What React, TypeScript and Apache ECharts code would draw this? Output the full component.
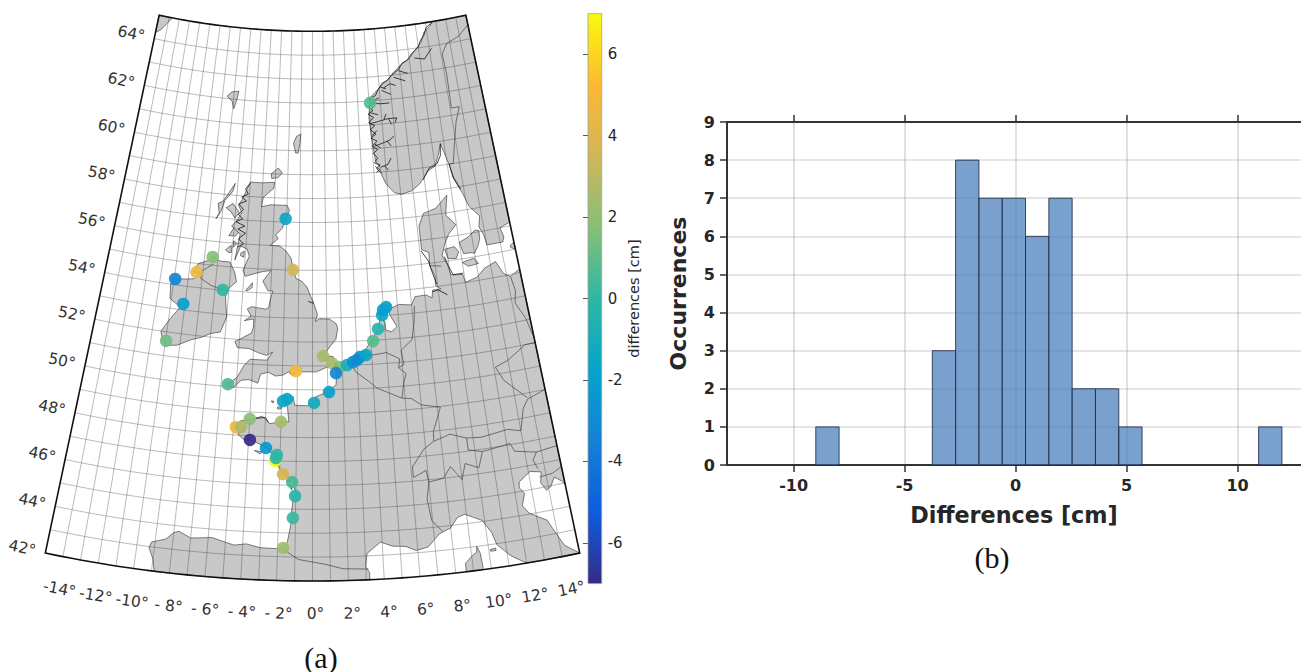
import React, { useEffect, useLayoutEffect, useRef } from "react";
import * as echarts from "echarts";

// ---------- data ----------
const stationLon = [5.09,-2.08,-1.44,-7.40,-8.46,-9.93,-9.12,-6.44,-9.96,-5.56,-1.10,0.71,1.31,1.83,2.31,2.72,2.99,3.20,3.61,4.15,4.53,4.88,4.97,5.20,1.56,1.08,0.10,-1.65,-1.91,-2.00,-3.99,-4.84,-4.52,-3.91,-2.89,-2.30,-2.25,-2.20,-1.79,-1.23,-1.04,-1.15,-1.68];
const stationLat = [61.92,57.14,55.01,55.34,54.64,54.24,53.25,54.01,51.62,50.10,50.78,51.41,51.11,50.94,51.01,51.13,51.21,51.33,51.40,51.97,52.46,53.03,53.24,53.35,50.69,49.90,49.45,49.60,49.51,48.64,48.71,48.33,48.35,47.83,47.53,47.00,47.12,47.25,46.46,46.13,45.55,44.63,43.37];
const stationDiff = [0.8,-1.5,3.5,1.7,4.6,-3.3,-2,0,1.3,0.7,4.8,2.5,2.6,1.5,-1,-2.8,-3,-3,-1.6,0.8,-0.3,-1.5,-2,-2,-3.2,-2,-1.2,-1.6,-1.6,2.4,1.9,4.7,2.6,-7,-2.4,7,0,0,3.7,0.5,-0.2,0.2,2.3];

const binStart = [-9,-7.95,-6.9,-5.85,-4.8,-3.75,-2.7,-1.65,-0.6,0.45,1.5,2.55,3.6,4.65,5.7,6.75,7.8,8.85,9.9,10.95];
const occurrences = [1,0,0,0,0,3,8,7,7,6,7,2,2,1,0,0,0,0,0,1];
const BIN_WIDTH = 1.05;

const lonTickLabels = [[-14,"-14°"],[-12,"-12°"],[-10,"-10°"],[-8,"- 8°"],[-6,"- 6°"],[-4,"- 4°"],[-2,"- 2°"],[0,"0°"],[2,"2°"],[4,"4°"],[6,"6°"],[8,"8°"],[10,"10°"],[12,"12°"],[14,"14°"]] as [number,string][];
const latTicks = [42,44,46,48,50,52,54,56,58,60,62,64];
const colorbarTicks = [-6,-4,-2,0,2,4,6];
const histXTicks = [-10,-5,0,5,10];
const parula = ["#352a87","#0f5cdd","#1481d6","#06a4ca","#2eb7a4","#87bf77","#d1b659","#fdb932","#f9fb0e"];

// coastlines, lon/lat
const scandinavia = [[11.7,65],[11.3,64.8],[10.7,64.6],[10.3,64.2],[9.6,63.9],[9.0,63.6],[8.2,63.4],[7.4,63.1],[6.9,62.85],[6.2,62.6],[5.5,62.3],[5.05,62.1],[5.0,61.7],[4.9,61.3],[4.95,60.9],[5.0,60.5],[5.1,60.0],[5.2,59.5],[5.5,59.2],[5.6,58.9],[5.9,58.5],[6.5,58.1],[7.05,58.0],[7.9,58.1],[8.6,58.35],[9.4,58.85],[10.0,59.0],[10.4,59.45],[10.7,59.9],[10.9,59.5],[11.15,59.0],[11.3,58.4],[11.85,57.7],[12.2,57.1],[12.85,56.65],[12.65,56.2],[12.9,55.85],[13.0,55.4],[14.2,55.4],[14.35,55.6],[14.2,56.0],[14.7,56.1],[15,56.15],[15,65]];
const continent = [[-8.85,42],[-9.0,42.5],[-9.3,42.95],[-9.2,43.2],[-8.4,43.4],[-8.0,43.7],[-7.7,43.78],[-7.0,43.55],[-5.8,43.65],[-4.5,43.4],[-3.8,43.48],[-3.0,43.35],[-2.0,43.33],[-1.7,43.38],[-1.45,43.6],[-1.25,44.4],[-1.2,44.62],[-1.05,44.68],[-1.25,44.75],[-1.15,45.45],[-1.25,45.6],[-0.8,45.35],[-1.1,45.9],[-1.1,46.2],[-1.8,46.45],[-2.15,46.85],[-2.1,47.15],[-2.55,47.3],[-2.8,47.5],[-3.2,47.65],[-3.7,47.8],[-4.35,47.85],[-4.7,48.05],[-4.3,48.25],[-4.8,48.4],[-4.6,48.6],[-3.9,48.7],[-3.2,48.85],[-2.7,48.55],[-2.0,48.65],[-1.5,48.65],[-1.6,49.2],[-1.85,49.7],[-1.25,49.7],[-1.15,49.35],[-0.3,49.33],[0.15,49.5],[0.2,49.7],[1.1,49.95],[1.55,50.2],[1.6,50.85],[1.9,51.0],[2.5,51.1],[3.35,51.37],[3.9,51.4],[3.5,51.55],[4.05,52.0],[4.55,52.5],[4.75,52.95],[5.05,52.7],[5.05,52.4],[5.45,52.3],[5.85,52.5],[5.6,52.8],[5.4,53.05],[5.4,53.25],[6.1,53.42],[7.0,53.35],[7.3,53.68],[8.1,53.7],[8.5,53.55],[8.6,53.87],[9.2,53.88],[8.85,54.05],[8.9,54.45],[8.6,54.9],[8.65,55.45],[8.15,55.6],[8.15,56.6],[8.6,57.1],[9.6,57.25],[10.6,57.73],[10.4,57.2],[10.3,56.9],[10.95,56.45],[10.3,56.1],[9.9,55.7],[9.6,55.25],[9.9,54.85],[10.05,54.4],[10.9,54.35],[11.0,54.0],[11.9,54.15],[12.5,54.45],[13.4,54.65],[13.8,54.1],[14.25,53.92],[15,54.15],[15,44.95],[14.85,45.1],[14.45,45.33],[14.15,44.97],[13.85,44.85],[13.6,45.2],[13.75,45.65],[13.1,45.75],[12.35,45.4],[12.3,45.15],[12.55,44.9],[12.3,44.4],[12.6,44.05],[13.55,43.62],[14.25,42.45],[15,42],[12.0,42],[11.8,42.1],[11.2,42.4],[10.7,42.8],[10.5,42.95],[10.3,43.5],[9.85,44.05],[8.9,44.4],[8.45,44.3],[8.0,43.9],[7.3,43.7],[6.6,43.2],[5.9,43.1],[5.35,43.3],[4.6,43.35],[3.9,43.55],[3.1,43.1],[3.0,42.55],[3.2,42.3],[3.2,42]];
const greatBritain = [[-5.7,50.05],[-5.2,49.96],[-4.7,50.3],[-4.2,50.35],[-3.6,50.22],[-3.45,50.6],[-2.95,50.7],[-2.45,50.55],[-1.95,50.6],[-1.3,50.85],[-0.8,50.75],[0.25,50.75],[1.0,50.95],[1.4,51.15],[1.4,51.38],[0.7,51.45],[0.55,51.5],[0.95,51.6],[1.25,51.85],[1.6,52.1],[1.75,52.55],[1.65,52.75],[1.2,52.95],[0.5,52.97],[0.2,52.85],[0.35,53.15],[0.1,53.6],[-0.3,53.7],[0.1,53.62],[-0.2,54.0],[-0.4,54.3],[-0.8,54.55],[-1.2,54.65],[-1.4,55.0],[-1.6,55.5],[-2.0,55.8],[-2.5,56.0],[-3.2,56.0],[-2.6,56.3],[-2.8,56.45],[-2.3,56.75],[-2.1,57.1],[-1.8,57.5],[-2.0,57.7],[-3.3,57.7],[-4.0,57.6],[-3.9,58.0],[-3.1,58.4],[-3.05,58.65],[-4.0,58.6],[-5.0,58.6],[-5.3,58.2],[-5.5,57.9],[-5.8,57.6],[-5.5,57.3],[-5.8,57.0],[-6.2,56.7],[-5.5,56.4],[-5.6,56.0],[-5.75,55.3],[-5.4,55.9],[-4.9,55.8],[-4.7,55.5],[-5.1,54.9],[-4.9,54.65],[-4.2,54.8],[-3.6,54.9],[-3.05,54.95],[-3.6,54.5],[-3.2,54.1],[-2.85,54.1],[-3.0,53.75],[-3.1,53.4],[-3.3,53.33],[-4.3,53.4],[-4.6,53.3],[-4.3,53.0],[-4.75,52.8],[-4.1,52.9],[-4.1,52.55],[-4.2,52.3],[-5.3,51.9],[-5.1,51.65],[-4.3,51.65],[-3.7,51.5],[-3.1,51.4],[-2.7,51.55],[-3.05,51.2],[-4.2,51.2],[-4.55,50.95],[-5.0,50.4]];
const ireland = [[-9.8,51.45],[-10.2,51.6],[-10.4,52.0],[-9.9,52.56],[-9.3,53.1],[-10.1,53.4],[-10.2,54.0],[-10.0,54.25],[-9.1,54.3],[-8.6,54.35],[-8.2,54.6],[-8.7,54.65],[-8.4,55.0],[-7.6,55.2],[-7.3,55.35],[-6.8,55.2],[-6.1,55.2],[-5.7,54.8],[-5.5,54.4],[-6.1,54.05],[-6.2,53.7],[-6.1,53.3],[-6.0,52.9],[-6.35,52.25],[-7.0,52.15],[-7.6,51.95],[-8.3,51.8],[-9.2,51.5]];
const islands = [
  [[-15,65],[-13.7,65],[-14.5,64.45],[-15,64.25]],
  [[-7.6,62.1],[-7.2,62.3],[-6.6,62.35],[-6.7,62.0],[-6.9,61.6],[-7.1,61.9]],
  [[-1.35,60.6],[-1.0,60.7],[-1.05,60.3],[-1.2,59.9],[-1.4,59.9],[-1.6,60.3]],
  [[-3.35,59.0],[-2.8,59.25],[-2.45,59.05],[-2.8,58.85],[-3.3,58.8]],
  [[-7.45,56.95],[-7.25,57.2],[-7.4,57.6],[-7.05,57.7],[-6.2,58.5],[-6.35,58.15],[-6.9,57.75],[-7.1,57.3]],
  [[-6.75,57.45],[-6.25,57.65],[-5.7,57.3],[-6.0,57.05],[-6.35,57.3]],
  [[-6.35,56.3],[-6.0,56.65],[-5.65,56.45],[-5.85,56.3]],
  [[-6.5,55.7],[-6.1,55.9],[-6.05,55.6],[-6.3,55.6]],
  [[-5.95,56.1],[-5.7,56.0],[-5.95,55.82]],
  [[-5.35,55.6],[-5.1,55.7],[-5.1,55.45],[-5.35,55.5]],
  [[-4.8,54.07],[-4.35,54.4],[-4.35,54.2],[-4.7,54.05]],
  [[-1.55,50.7],[-1.1,50.73],[-1.3,50.58]],
  [[-2.25,49.26],[-2.0,49.26],[-2.05,49.17],[-2.25,49.18]],
  [[-2.68,49.5],[-2.5,49.5],[-2.55,49.42]],
  [[-5.15,48.48],[-5.03,48.48],[-5.08,48.44]],
  [[-3.6,47.4],[-3.1,47.35],[-3.25,47.27]],
  [[-1.55,46.2],[-1.3,46.2],[-1.4,46.14]],
  [[-1.4,46.05],[-1.25,45.95],[-1.25,45.8]],
  [[4.72,53.02],[4.92,53.18],[4.88,53.0]],
  [[5.2,53.37],[5.55,53.45],[5.3,53.38]],
  [[9.85,55.5],[10.6,55.55],[10.85,55.3],[10.6,55.05],[10.0,55.1]],
  [[11.0,55.7],[11.7,55.85],[12.3,56.1],[12.6,56.05],[12.55,55.7],[12.3,55.4],[12.0,55.15],[11.7,55.2],[11.2,55.2]],
  [[11.0,54.85],[11.9,54.95],[12.15,54.7],[11.4,54.65]],
  [[14.7,55.2],[15,55.3],[15,55.0],[14.7,55.1]],
  [[9.35,43.0],[9.5,42.7],[9.55,42.1],[9.5,42],[8.6,42],[8.6,42.35],[9.05,42.65],[9.3,42.75]],
  [[10.1,42.8],[10.4,42.82],[10.4,42.72],[10.1,42.72]],
];
const borders = [
  [[-1.75,43.35],[-0.8,42.9],[0.7,42.7],[1.7,42.5],[3.15,42.45]],
  [[2.55,51.08],[2.9,50.7],[3.7,50.3],[4.2,50.0],[4.85,49.8],[5.8,49.5]],
  [[5.8,49.5],[6.4,49.45],[7.0,49.15],[8.2,48.97],[7.6,48.0],[7.55,47.58]],
  [[7.55,47.58],[6.9,47.3],[6.1,46.6],[6.1,46.15],[6.9,46.4],[7.0,45.9],[7.9,46.0],[8.4,46.45],[9.0,45.85],[9.3,46.5],[10.1,46.25],[10.45,46.9],[9.6,47.05],[9.6,47.55],[8.6,47.8],[7.55,47.58]],
  [[7.0,45.9],[6.8,45.2],[6.95,44.3],[7.5,43.8]],
  [[3.35,51.35],[4.3,51.4],[5.0,51.45],[5.85,51.15],[5.75,50.78],[6.2,50.5],[6.0,50.15],[5.8,49.5]],
  [[5.75,50.78],[6.1,50.9],[6.0,51.5],[6.8,51.9],[7.05,52.6],[7.2,53.3]],
  [[8.65,54.9],[9.45,54.82]],
  [[14.25,53.92],[14.4,53.3],[14.2,52.8],[14.7,52.1],[15,51.2]],
  [[15,51.0],[14.3,51.0],[13,50.5],[12.1,50.3],[12.5,49.7],[13.8,48.8]],
  [[15,49.0],[13.8,48.75],[13.4,48.4],[13.0,47.5],[12.2,47.65],[10.5,47.5],[9.6,47.55]],
  [[10.45,46.9],[12.2,47.05],[12.4,46.7],[13.7,46.5],[13.4,46.2],[13.6,45.8]],
  [[13.7,46.5],[15,46.6]],
  [[13.6,45.45],[14.4,45.5],[15,45.7]],
  [[15,64.6],[13.9,64.2],[12.7,64.0],[12.1,63.6],[12.2,62.7],[12.1,61.3],[12.8,61.3],[12.3,60.7],[11.9,59.9],[11.5,59.0],[11.15,59.0]],
  [[-7.3,55.05],[-8.1,54.7],[-8.1,54.4],[-7.3,54.15],[-6.6,54.05],[-6.3,54.1]],
];
const fjords = [
  [[4.9,61.05],[5.5,61.1],[6.5,61.2],[7.3,61.2],[7.1,61.0]],
  [[6.2,61.2],[6.4,61.4]],[[6.6,61.18],[6.8,60.95]],
  [[5.2,60.1],[5.9,60.2],[6.5,60.3],[6.9,60.45]],
  [[6.3,60.27],[6.6,60.05]],
  [[5.1,61.9],[6.0,61.85],[6.8,61.85]],
  [[6.2,62.4],[7.0,62.2]],[[6.4,62.5],[7.0,62.65],[7.5,62.55]],
  [[5.6,59.2],[6.2,59.3],[6.5,59.55]],[[5.9,59.25],[6.2,59.05]],
  [[9.5,63.6],[10.4,63.5],[11.2,63.9]],
  [[7.4,62.9],[8.4,62.7]],[[7.9,63.15],[8.7,63.0]],
  [[5.6,58.95],[5.25,59.15],[5.55,59.3],[5.1,59.4],[5.4,59.6],[5.05,59.8],[5.45,59.95],[5.0,60.1],[5.45,60.3],[4.95,60.45],[5.4,60.6],[4.95,60.8],[5.35,60.95],[4.85,61.1],[5.3,61.3],[4.85,61.45],[5.3,61.6],[4.9,61.75],[5.5,61.95],[5.05,62.1],[5.6,62.2],[5.9,62.45],[6.3,62.7],[6.8,62.8],[7.2,62.98],[7.9,63.2],[8.3,63.45],[8.8,63.55],[9.3,63.8],[9.6,63.9],[10.0,64.05],[10.3,64.3],[10.7,64.5],[11.0,64.8],[11.6,64.95]],
  [[5.2,59.0],[5.5,59.1],[5.15,59.25]],[[5.7,60.0],[5.2,60.2]],[[5.5,60.75],[5.1,60.55]],[[5.7,61.4],[5.1,61.5]],[[5.9,62.1],[5.4,62.0]],[[6.6,62.45],[6.1,62.55]],
  [[10.7,59.9],[10.55,59.4],[10.2,59.1],[9.5,58.95],[8.9,58.5]],
  [[11.15,59.0],[11.35,58.4],[11.75,57.9]],
  [[10.95,54.4],[10.2,54.4],[9.95,54.8],[9.75,55.2]],
  [[8.1,55.55],[8.55,55.1],[8.75,54.55],[8.95,54.1]],
  [[-5.0,58.55],[-5.35,58.3],[-5.1,58.1],[-5.6,57.95],[-5.2,57.8],[-5.8,57.65],[-5.4,57.45],[-5.75,57.2],[-5.4,57.05],[-5.9,56.9],[-5.2,56.75],[-5.7,56.6],[-5.1,56.45],[-5.6,56.2],[-5.2,56.0],[-5.6,55.85]],
  [[-3.6,48.75],[-3.0,48.8],[-2.8,48.6]],
  [[8.6,53.8],[9.0,53.85],[9.6,53.6]],
];

// ---------- projection ----------
const R42 = 1290, RATE = 23.9, CONE = 0.797, LON_EDGE = 15, LAT_BOTTOM = 42, LAT_TOP = 65;
const project = (lon: number, lat: number) => {
  const r = R42 - RATE * (lat - 42);
  const t = (CONE * lon * Math.PI) / 180;
  return [r * Math.sin(t), r * Math.cos(t)];
};
const densify = (pts: number[][], closed = false) => {
  const out: number[][] = [];
  const n = pts.length;
  const segs = closed ? n : n - 1;
  for (let i = 0; i < segs; i++) {
    const a = pts[i], b = pts[(i + 1) % n];
    const steps = Math.max(1, Math.ceil(Math.max(Math.abs(a[0] - b[0]), Math.abs(a[1] - b[1])) / 0.5));
    for (let k = 0; k < steps; k++) out.push([a[0] + ((b[0] - a[0]) * k) / steps, a[1] + ((b[1] - a[1]) * k) / steps]);
  }
  if (!closed) out.push(pts[n - 1]);
  return out;
};

const lonLines = Array.from({ length: 29 }, (_, i) => -14 + i);
const latLines = Array.from({ length: 22 }, (_, i) => 43 + i);
const graticule = [
  ...lonLines.map((l) => [[l, LAT_BOTTOM], [l, LAT_TOP]]),
  ...latLines.map((l) => [[-LON_EDGE, l], [LON_EDGE, l]]),
];
const frame = [[-LON_EDGE, LAT_BOTTOM], [LON_EDGE, LAT_BOTTOM], [LON_EDGE, LAT_TOP], [-LON_EDGE, LAT_TOP]];
const land = [continent, scandinavia, greatBritain, ireland, ...islands];

const DEJAVU = '"DejaVu Sans", sans-serif';
const idx = (a: unknown[]) => a.map((_, i) => [i, 0]);
const axisDark = "#333333";

const mapAxis = { gridIndex: 0, type: "value", show: false } as const;

function buildOption() {
  const lineSeries = (name: string, rings: number[][][], stroke: string, width: number) => ({
    name,
    type: "custom",
    xAxisIndex: 0,
    yAxisIndex: 0,
    silent: true,
    data: idx(rings),
    renderItem: (p: any, api: any) => ({
      type: "polyline",
      shape: { points: densify(rings[p.dataIndex]).map((q) => api.coord(project(q[0], q[1]))) },
      style: { stroke, lineWidth: width, fill: "none" },
    }),
  });
  return {
    animation: false,
    backgroundColor: "#ffffff",
    tooltip: { show: false },
    grid: [
      { left: 0, top: 0, width: 640, height: 672 },
      { left: 727, top: 122, width: 574, height: 343 },
      { left: 588, top: 13.6, width: 13.7, height: 570 },
    ],
    xAxis: [
      { ...mapAxis, min: -312.5, max: 327.5 },
      {
        gridIndex: 1, type: "value", min: -13, max: 12.86, position: "bottom",
        name: "Differences [cm]", nameLocation: "middle", nameGap: 39,
        nameTextStyle: { fontFamily: DEJAVU, fontWeight: "bold", fontSize: 22.3, color: "#262626" },
        axisLine: { show: true, onZero: false, lineStyle: { color: axisDark, width: 2 } },
        axisTick: { show: true, length: 7, customValues: histXTicks, lineStyle: { color: axisDark, width: 1.5 } },
        axisLabel: { show: true, customValues: histXTicks, margin: 12, fontFamily: DEJAVU, fontWeight: "bold", fontSize: 16, color: "#262626" },
        splitLine: { show: true, lineStyle: { color: "rgba(150,150,150,0.4)", width: 1.5 } },
      },
      {
        gridIndex: 1, type: "value", min: -13, max: 12.86, position: "top",
        axisLine: { show: true, onZero: false, lineStyle: { color: axisDark, width: 2 } },
        axisTick: { show: true, length: 7, customValues: histXTicks, lineStyle: { color: axisDark, width: 1.5 } },
        axisLabel: { show: false },
        splitLine: { show: false },
      },
      { gridIndex: 2, type: "value", min: 0, max: 1, show: false },
    ],
    yAxis: [
      { ...mapAxis, min: 709, max: 1381, inverse: true },
      {
        gridIndex: 1, type: "value", min: 0, max: 9, interval: 1,
        name: "Occurrences", nameLocation: "middle", nameGap: 38,
        nameTextStyle: { fontFamily: DEJAVU, fontWeight: "bold", fontSize: 22, color: "#262626" },
        axisLine: { show: true, onZero: false, lineStyle: { color: axisDark, width: 2 } },
        axisTick: { show: true, length: 7, lineStyle: { color: axisDark, width: 1.5 } },
        axisLabel: { show: true, margin: 12, fontFamily: DEJAVU, fontWeight: "bold", fontSize: 16, color: "#262626" },
        splitLine: { show: true, lineStyle: { color: "rgba(170,170,170,0.3)", width: 2 } },
      },
      {
        gridIndex: 2, type: "value", min: -7, max: 7, position: "right",
        name: "differences [cm]", nameLocation: "middle", nameGap: 24, nameRotate: 90,
        nameTextStyle: { fontFamily: DEJAVU, fontSize: 14.5, color: "#262626" },
        axisLine: { show: false },
        axisTick: { show: true, inside: true, length: 5, customValues: colorbarTicks, lineStyle: { color: "#555555", width: 1 } },
        axisLabel: { show: true, customValues: colorbarTicks, margin: 6, fontFamily: DEJAVU, fontSize: 15, color: "#262626" },
        splitLine: { show: false },
      },
    ],
    visualMap: {
      show: false, type: "continuous", min: -7, max: 7, dimension: 2, seriesIndex: 5,
      inRange: { color: parula },
    },
    series: [
      {
        name: "land", type: "custom", xAxisIndex: 0, yAxisIndex: 0, silent: true, data: idx(land),
        renderItem: (p: any, api: any) => ({
          type: "polygon",
          shape: { points: densify(land[p.dataIndex], true).map((q) => api.coord(project(q[0], q[1]))) },
          style: { fill: "#c8c8c8", stroke: "#2b2b2b", lineWidth: 0.6 },
        }),
      },
      lineSeries("borders", borders, "#444444", 0.7),
      lineSeries("fjords", fjords, "#111111", 0.8),
      lineSeries("graticule", graticule, "rgba(40,40,40,0.4)", 0.8),
      {
        name: "frame", type: "custom", xAxisIndex: 0, yAxisIndex: 0, silent: true, data: [[0, 0]],
        renderItem: (_p: any, api: any) => ({
          type: "polygon",
          shape: { points: densify(frame, true).map((q) => api.coord(project(q[0], q[1]))) },
          style: { fill: "none", stroke: "#111111", lineWidth: 1.6 },
        }),
      },
      {
        name: "stations", type: "scatter", xAxisIndex: 0, yAxisIndex: 0, symbolSize: 12.5, silent: true,
        itemStyle: { opacity: 0.92 },
        data: stationLon.map((lon, i) => [...project(lon, stationLat[i]), stationDiff[i]]),
      },
      {
        name: "lonLabels", type: "custom", xAxisIndex: 0, yAxisIndex: 0, silent: true, data: idx(lonTickLabels),
        renderItem: (p: any, api: any) => {
          const [lon, text] = lonTickLabels[p.dataIndex];
          const t = (CONE * lon * Math.PI) / 180;
          const r = R42 + 33;
          const c = api.coord([r * Math.sin(t) + 3, r * Math.cos(t)]);
          return {
            type: "text", x: c[0], y: c[1], rotation: t,
            style: { text, fontFamily: DEJAVU, fontSize: 15.5, fill: "#333333", align: "center", verticalAlign: "middle" },
          };
        },
      },
      {
        name: "latLabels", type: "custom", xAxisIndex: 0, yAxisIndex: 0, silent: true, data: idx(latTicks),
        renderItem: (p: any, api: any) => {
          const lat = latTicks[p.dataIndex];
          const pt = project(-LON_EDGE, lat);
          const c = api.coord([pt[0] - 23, pt[1] - 5]);
          return {
            type: "text", x: c[0], y: c[1], rotation: (-CONE * LON_EDGE * Math.PI) / 180,
            style: { text: `${lat}°`, fontFamily: DEJAVU, fontSize: 15.5, fill: "#333333", align: "center", verticalAlign: "middle" },
          };
        },
      },
      {
        name: "histogram", type: "custom", xAxisIndex: 1, yAxisIndex: 1, silent: true, z: 5,
        data: binStart.map((b, i) => [b, b + BIN_WIDTH, occurrences[i]]),
        encode: { x: [0, 1], y: 2 },
        renderItem: (_p: any, api: any) => {
          const a = api.coord([api.value(0), 0]);
          const b = api.coord([api.value(1), api.value(2)]);
          if (api.value(2) === 0) return null;
          return {
            type: "rect",
            shape: { x: a[0], y: b[1], width: b[0] - a[0], height: a[1] - b[1] },
            style: { fill: "rgba(76,127,189,0.74)", stroke: "rgba(30,45,70,0.85)", lineWidth: 1 },
          };
        },
      },
      {
        name: "colorbar", type: "custom", xAxisIndex: 3, yAxisIndex: 2, silent: true, z: 1, data: [[0, -7]],
        renderItem: (_p: any, api: any) => {
          const a = api.coord([0, -7]);
          const b = api.coord([1, 7]);
          return {
            type: "rect",
            shape: { x: a[0], y: b[1], width: b[0] - a[0], height: a[1] - b[1] },
            style: {
              fill: new echarts.graphic.LinearGradient(0, 1, 0, 0, parula.map((color, i) => ({ offset: i / (parula.length - 1), color }))),
              stroke: "#a0a0a0", lineWidth: 0.8,
            },
          };
        },
      },
    ],
    graphic: [
      { type: "text", x: 321, y: 657, style: { text: "(a)", font: '30px "Liberation Serif", serif', fill: "#111111", align: "center", verticalAlign: "middle" } },
      { type: "text", x: 992, y: 557, style: { text: "(b)", font: '30px "Liberation Serif", serif', fill: "#111111", align: "center", verticalAlign: "middle" } },
    ],
  };
}

export default function App() {
  const ref = useRef<HTMLDivElement>(null);
  useLayoutEffect(() => {
    document.body.style.margin = "0";
    document.documentElement.style.margin = "0";
  }, []);
  useEffect(() => {
    const chart = echarts.init(ref.current!, undefined, { renderer: "svg" });
    chart.setOption(buildOption() as any);
    return () => chart.dispose();
  }, []);
  return <div ref={ref} style={{ width: 1301, height: 672 }} />;
}
